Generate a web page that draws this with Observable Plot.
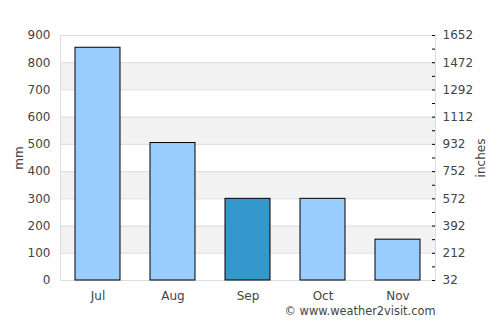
<!DOCTYPE html>
<html>
<head>
<meta charset="utf-8">
<script src="https://cdn.jsdelivr.net/npm/d3@7"></script>
<script src="https://cdn.jsdelivr.net/npm/@observablehq/plot@0.6"></script>
<style>
  body { margin: 0; background: #fff; }
  svg { font-family: "DejaVu Sans", sans-serif; }
</style>
</head>
<body>
<div id="chart"></div>
<script>
const months = ["Jul", "Aug", "Sep", "Oct", "Nov"];
const rainfall = [855, 505, 300, 300, 150];
const highlightMonth = "Sep";
const leftTicks = [0, 100, 200, 300, 400, 500, 600, 700, 800, 900];
const minorTicks = [0, 50, 100, 150, 200, 250, 300, 350, 400, 450, 500, 550, 600, 650, 700, 750, 800, 850, 900];
const grayBands = [[100, 200], [300, 400], [500, 600], [700, 800]];
const credit = "© www.weather2visit.com";

const data = months.map((m, i) => ({month: m, value: rainfall[i]}));
const bands = grayBands.map(([a, b]) => ({y1: a, y2: b}));

const chart = Plot.plot({
  width: 500,
  height: 325,
  marginLeft: 60,
  marginRight: 65,
  marginTop: 35,
  marginBottom: 45,
  style: {fontFamily: "DejaVu Sans, sans-serif", fontSize: "12px", color: "#444", background: "#fff"},
  x: {domain: months, paddingInner: 0.4, paddingOuter: 0.2, label: null},
  y: {domain: [0, 900], label: null},
  marks: [
    Plot.rectY(bands, {y1: "y1", y2: "y2", fill: "#f2f2f2"}),
    Plot.gridY(leftTicks, {stroke: "#dddddd", strokeOpacity: 1}),
    Plot.frame({stroke: "#dddddd"}),
    Plot.tickY(minorTicks, {y: d => d, stroke: "#000", insetLeft: 372}),
    Plot.barY(data, {x: "month", y: "value", fill: d => d.month === highlightMonth ? "#3399cc" : "#99ccff", stroke: "#000", strokeWidth: 1}),
    Plot.axisX({tickSize: 0, tickPadding: 11, label: null, fill: "#444"}),
    Plot.axisY(leftTicks, {anchor: "left", tickSize: 0, tickPadding: 10, label: "mm", labelAnchor: "center", labelArrow: "none", labelOffset: 46, fill: "#444"}),
    Plot.axisY(leftTicks, {anchor: "right", tickSize: 0, tickPadding: 7, tickFormat: d => String(Math.round(d * 1.8 + 32)), label: "inches", labelAnchor: "center", labelArrow: "none", labelOffset: 49, fill: "#444"}),
    Plot.text([credit], {text: d => d, frameAnchor: "bottom-right", textAnchor: "end", dy: 34, fill: "#444", fontSize: 11.4})
  ]
});
document.getElementById("chart").appendChild(chart);
</script>
</body>
</html>
